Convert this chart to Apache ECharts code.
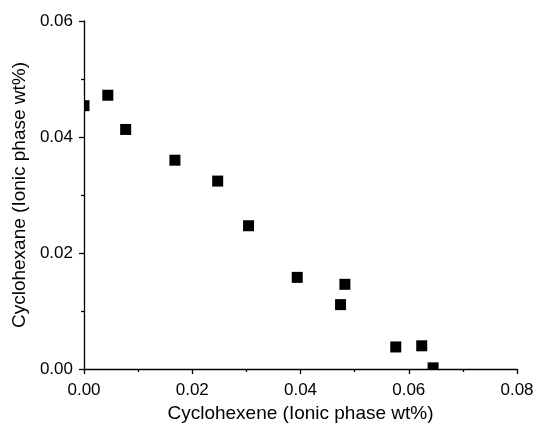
<!DOCTYPE html>
<html>
<head>
<meta charset="utf-8">
<script src="https://cdn.jsdelivr.net/npm/echarts@6/dist/echarts.min.js"></script>
<style>
html,body{margin:0;padding:0;background:#fff;}
#chart{width:538px;height:424px;}
</style>
</head>
<body>
<div id="chart"></div>
<script>
// 数据 (wt%)
var cyclohexene = [0.0000, 0.0044, 0.0077, 0.0168, 0.0247, 0.0304, 0.0394, 0.0482, 0.0474, 0.0576, 0.0624, 0.0645];
var cyclohexane = [0.0454, 0.0472, 0.0413, 0.0360, 0.0324, 0.0247, 0.0158, 0.0146, 0.0111, 0.0038, 0.0040, 0.0002];
var xTicks = [0.00, 0.02, 0.04, 0.06, 0.08];
var yTicks = [0.00, 0.02, 0.04, 0.06];

var points = cyclohexene.map(function(x, i){ return [x, cyclohexane[i]]; });
var font = 'Liberation Sans, Arial, Helvetica, sans-serif';

function axisCommon(ticks, name, gap){
	return {
		min: ticks[0],
		max: ticks[ticks.length - 1],
		interval: ticks[1] - ticks[0],
		name: name,
		nameLocation: 'middle',
		nameGap: gap,
		nameTextStyle: {color:'#000', fontSize:19, fontFamily:font},
		axisLine: {show:true, onZero:false, lineStyle:{color:'#000', width:1.3}},
		axisTick: {show:true, inside:false, length:5, lineStyle:{color:'#000', width:1.3}},
		minorTick: {show:true, splitNumber:2, length:3, lineStyle:{color:'#000', width:1.3}},
		splitLine: {show:false},
		axisLabel: {color:'#000', fontSize:17, fontFamily:font, margin:10,
			formatter:function(v){ return v.toFixed(2); }}
	};
}

var xAxis = axisCommon(xTicks, 'Cyclohexene (Ionic phase wt%)', 35);
xAxis.axisLabel.margin = 13;
var yAxis = axisCommon(yTicks, 'Cyclohexane (Ionic phase wt%)', 47);
yAxis.axisLabel.margin = 11;

var option = {
	animation: false,
	backgroundColor: '#fff',
	grid: {left:84, right:21, top:21, bottom:55, containLabel:false, outerBoundsMode:'none'},
	xAxis: xAxis,
	yAxis: yAxis,
	series: [{
		type: 'custom',
		clip: true,
		data: points,
		renderItem: function(params, api){
			var p = api.coord([api.value(0), api.value(1)]);
			return {
				type: 'rect',
				shape: {x:p[0]-5.5, y:p[1]-5.5, width:11, height:11},
				style: {fill:'#000'}
			};
		}
	}]
};

var chart = echarts.init(document.getElementById('chart'));
chart.setOption(option);
</script>
</body>
</html>
